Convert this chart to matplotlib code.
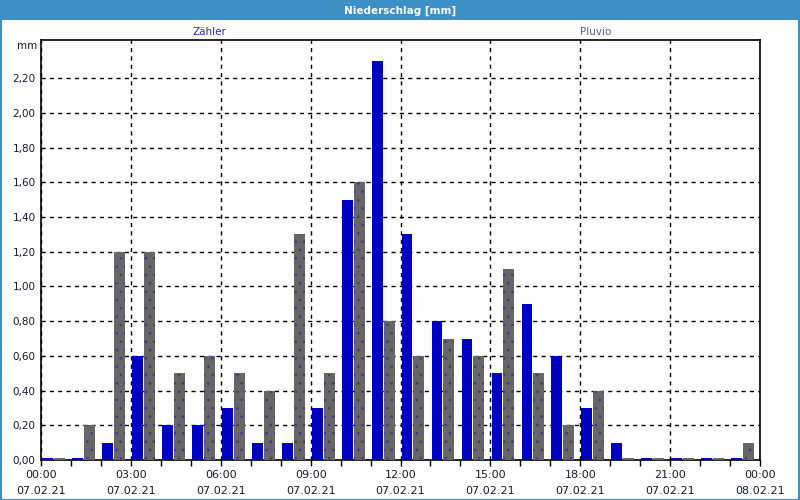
import numpy as np
import matplotlib
matplotlib.use('Agg')
import matplotlib.pyplot as plt
from matplotlib.patches import Rectangle

# hourly values, 07.02.21 00:00 .. 23:00
hours = np.arange(0, 24)
zaehler = [0.0, 0.0, 0.1, 0.6, 0.2, 0.2, 0.3, 0.1, 0.1, 0.3, 1.5, 2.3,
           1.3, 0.8, 0.7, 0.5, 0.9, 0.6, 0.3, 0.1, 0.0, 0.0, 0.0, 0.0]
pluvio = [0.0, 0.2, 1.2, 1.2, 0.5, 0.6, 0.5, 0.4, 1.3, 0.5, 1.6, 0.8,
          0.6, 0.7, 0.6, 1.1, 0.5, 0.2, 0.4, 0.0, 0.0, 0.0, 0.0, 0.1]

tick_hours = [0, 3, 6, 9, 12, 15, 18, 21, 24]
tick_labels = ['00:00\n07.02.21', '03:00\n07.02.21', '06:00\n07.02.21',
               '09:00\n07.02.21', '12:00\n07.02.21', '15:00\n07.02.21',
               '18:00\n07.02.21', '21:00\n07.02.21', '00:00\n08.02.21']
y_ticks = np.arange(0, 2.21, 0.2)

blue = '#0000C0'
gray = '#676767'
textcol = '#1A1A30'
plt.rcParams['hatch.linewidth'] = 0.6

fig = plt.figure(figsize=(8, 5), dpi=100, facecolor='#FCFDFC')
ax = fig.add_axes([0.05125, 0.08, 0.89875, 0.84], facecolor='#FCFDFC')

# title bar
fig.patches.append(Rectangle((0, 0.96), 1, 0.04, transform=fig.transFigure,
                             facecolor='#3C90C6', edgecolor='none', zorder=0))
fig.patches.append(Rectangle((0.0008, 0.001), 0.9984, 0.998, transform=fig.transFigure,
                             facecolor='none', edgecolor='#3C90C6', lw=1.5, zorder=5))
fig.text(0.5, 0.979, 'Niederschlag [mm]', color='white', fontsize=7.5,
         fontweight='bold', ha='center', va='center')

# zero values are still drawn as a thin sliver, like the original tool does
z_draw = np.maximum(zaehler, 0.012)
p_draw = np.maximum(pluvio, 0.012)

ax.bar(hours + 0.04, z_draw, width=0.36, align='edge', color=blue, lw=0, zorder=3)
ax.bar(hours + 0.433, p_draw, width=0.367, align='edge', color=gray, lw=0, zorder=3)
ax.bar(hours + 0.433, pluvio, width=0.367, align='edge', color='none',
       edgecolor='#3A3A90', lw=0, hatch='..', zorder=4)

ax.set_xlim(0, 24)
ax.set_ylim(0, 2.42)
ax.set_xticks(tick_hours)
ax.set_xticklabels(tick_labels, fontsize=8, color=textcol, linespacing=1.75)
ax.set_xticks(np.arange(0, 25), minor=True)
ax.set_yticks(y_ticks)
ax.set_yticklabels([('%.2f' % v).replace('.', ',') for v in y_ticks],
                   fontsize=7.5, color=textcol)
ax.tick_params(axis='x', which='both', direction='out', length=4, width=1,
               color='black', pad=3)
ax.tick_params(axis='y', length=0, pad=4)
ax.grid(True, which='major', color='black', linestyle=(0, (3, 3)), lw=1, zorder=1)
for s in ax.spines.values():
    s.set_color('black')
    s.set_linewidth(1.2)
    s.set_zorder(2)

fig.text(0.046, 0.908, 'mm', fontsize=7.5, color=textcol, ha='right', va='center')
fig.text(0.262, 0.936, 'Zähler', fontsize=7.5, color='#2424E0', ha='center', va='center')
fig.text(0.745, 0.936, 'Pluvio', fontsize=7.5, color='#5C5C90', ha='center', va='center')

fig.savefig('out.png', dpi=100, facecolor=fig.get_facecolor())
